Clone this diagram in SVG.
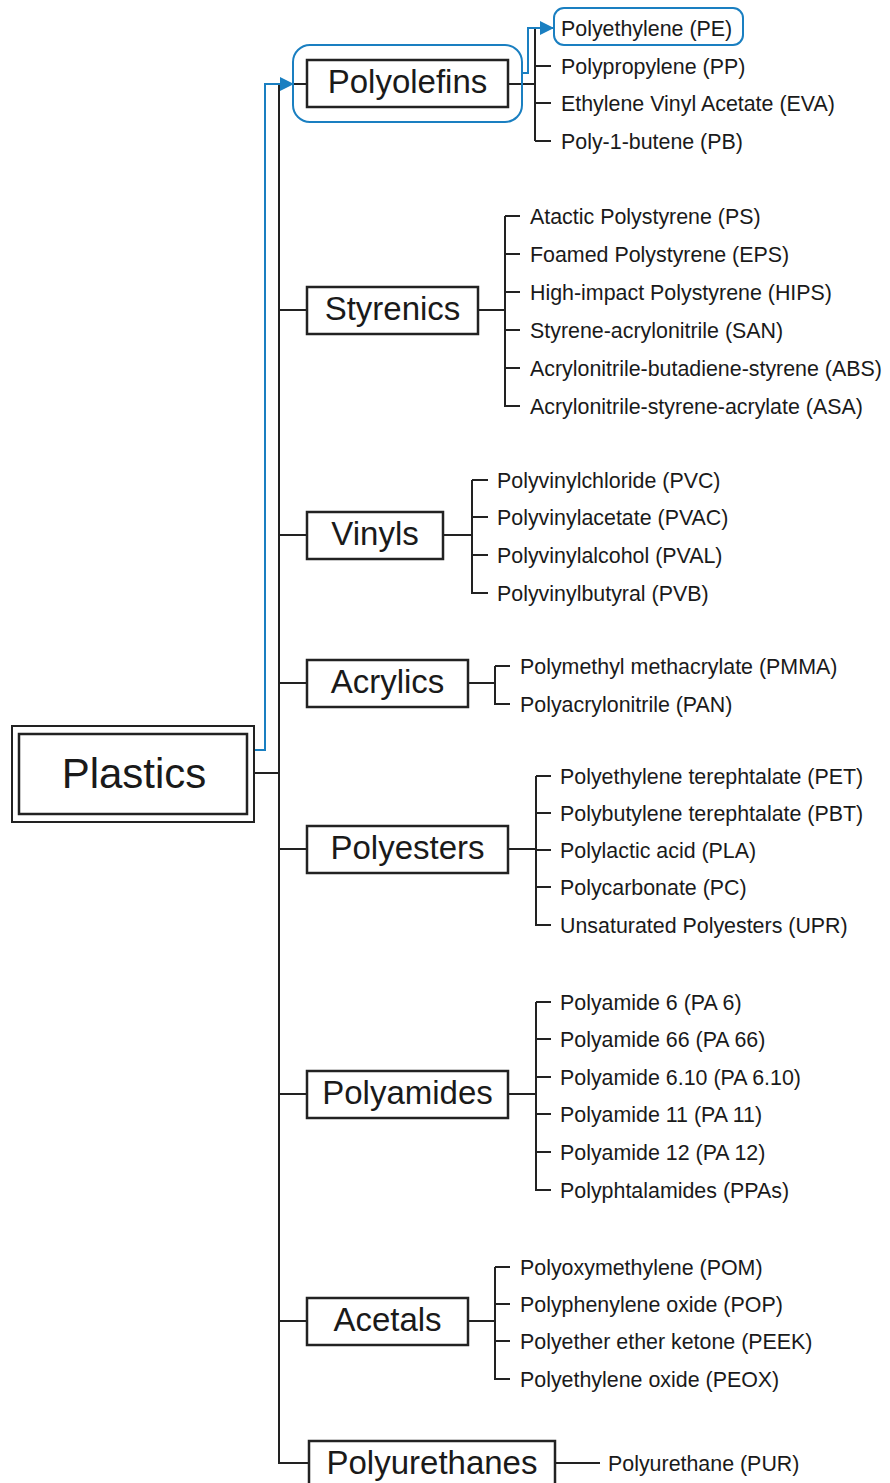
<svg xmlns="http://www.w3.org/2000/svg" width="890" height="1483" viewBox="0 0 890 1483">
<defs>
<style>
.bx{fill:#fff;stroke:#222;stroke-width:2.5}
.cat{font-family:"Liberation Sans",Arial,sans-serif;font-size:33px;fill:#1a1a1a;text-anchor:middle}
.it{font-family:"Liberation Sans",Arial,sans-serif;font-size:21.4px;fill:#1a1a1a}
.ln{fill:none;stroke:#222;stroke-width:2}
.bl{fill:none;stroke:#1a7fc1;stroke-width:2}
</style>
<marker id="ah" markerWidth="14" markerHeight="14" refX="13" refY="7" orient="auto" markerUnits="userSpaceOnUse">
<path d="M0,0 L14,7 L0,14 z" fill="#1a7fc1"/>
</marker>
</defs>
<rect width="890" height="1483" fill="#fff"/>
<g id="connectors">
<path class="ln" d="M279,84 V1463 H309"/>
<path class="ln" d="M254,773 H279"/>
<path class="ln" d="M279,84 H307 M279,310 H307 M279,535 H307 M279,683 H307 M279,849 H307 M279,1094 H307 M279,1321 H307"/>
<path class="ln" d="M508,84 H535 M535,28 V141 M535,66 H551 M535,103 H551 M535,141 H551"/>
<path class="ln" d="M478,310 H505 M505,216 V406 H520 M505,216 H520 M505,254 H520 M505,292 H520 M505,330 H520 M505,368 H520"/>
<path class="ln" d="M443,535 H472 M472,480 V593 H488 M472,480 H488 M472,517 H488 M472,555 H488"/>
<path class="ln" d="M468,683 H495 M495,666 V704 H510 M495,666 H510"/>
<path class="ln" d="M508,849 H536 M536,776 V925 H551 M536,776 H551 M536,813 H551 M536,850 H551 M536,887 H551"/>
<path class="ln" d="M508,1094 H536 M536,1002 V1190 H551 M536,1002 H551 M536,1039 H551 M536,1077 H551 M536,1114 H551 M536,1152 H551"/>
<path class="ln" d="M468,1321 H495 M495,1267 V1379 H510 M495,1267 H510 M495,1304 H510 M495,1341 H510"/>
<path class="ln" d="M555,1463 H600"/>
<path class="bl" d="M254,750 H265 V84 H293" marker-end="url(#ah)"/>
<path class="bl" d="M522,73 H528 V28 H553" marker-end="url(#ah)"/>
</g>
<g id="plastics">
<rect x="12" y="726" width="242" height="96" fill="#fff" stroke="#222" stroke-width="2"/>
<rect x="19" y="734" width="228" height="80" fill="none" stroke="#222" stroke-width="2.5"/>
<text x="134" y="788" class="cat" style="font-size:42px">Plastics</text>
</g>
<g id="polyolefins">
<rect x="293" y="45" width="229" height="77" rx="17" fill="none" stroke="#1a7fc1" stroke-width="2"/>
<rect class="bx" x="307" y="60" width="201" height="47"/>
<text x="407.5" y="93" class="cat">Polyolefins</text>
<rect x="554" y="8" width="189" height="37" rx="10" fill="none" stroke="#1a7fc1" stroke-width="2"/>
<text x="561" y="35.5" class="it">Polyethylene (PE)</text>
<text x="561" y="73.5" class="it">Polypropylene (PP)</text>
<text x="561" y="110.5" class="it">Ethylene Vinyl Acetate (EVA)</text>
<text x="561" y="148.5" class="it">Poly-1-butene (PB)</text>
</g>
<g id="styrenics">
<rect class="bx" x="307" y="287" width="171" height="47"/>
<text x="392.5" y="320" class="cat">Styrenics</text>
<text x="530" y="223.5" class="it">Atactic Polystyrene (PS)</text>
<text x="530" y="261.5" class="it">Foamed Polystyrene (EPS)</text>
<text x="530" y="299.5" class="it">High-impact Polystyrene (HIPS)</text>
<text x="530" y="337.5" class="it">Styrene-acrylonitrile (SAN)</text>
<text x="530" y="375.5" class="it">Acrylonitrile-butadiene-styrene (ABS)</text>
<text x="530" y="413.5" class="it">Acrylonitrile-styrene-acrylate (ASA)</text>
</g>
<g id="vinyls">
<rect class="bx" x="307" y="512" width="136" height="47"/>
<text x="375" y="545" class="cat">Vinyls</text>
<text x="497" y="487.5" class="it">Polyvinylchloride (PVC)</text>
<text x="497" y="524.5" class="it">Polyvinylacetate (PVAC)</text>
<text x="497" y="562.5" class="it">Polyvinylalcohol (PVAL)</text>
<text x="497" y="600.5" class="it">Polyvinylbutyral (PVB)</text>
</g>
<g id="acrylics">
<rect class="bx" x="307" y="660" width="161" height="47"/>
<text x="387.5" y="693" class="cat">Acrylics</text>
<text x="520" y="673.5" class="it">Polymethyl methacrylate (PMMA)</text>
<text x="520" y="711.5" class="it">Polyacrylonitrile (PAN)</text>
</g>
<g id="polyesters">
<rect class="bx" x="307" y="826" width="201" height="47"/>
<text x="407.5" y="859" class="cat">Polyesters</text>
<text x="560" y="783.5" class="it">Polyethylene terephtalate (PET)</text>
<text x="560" y="820.5" class="it">Polybutylene terephtalate (PBT)</text>
<text x="560" y="857.5" class="it">Polylactic acid (PLA)</text>
<text x="560" y="894.5" class="it">Polycarbonate (PC)</text>
<text x="560" y="932.5" class="it">Unsaturated Polyesters (UPR)</text>
</g>
<g id="polyamides">
<rect class="bx" x="307" y="1071" width="201" height="47"/>
<text x="407.5" y="1104" class="cat">Polyamides</text>
<text x="560" y="1009.5" class="it">Polyamide 6 (PA 6)</text>
<text x="560" y="1046.5" class="it">Polyamide 66 (PA 66)</text>
<text x="560" y="1084.5" class="it">Polyamide 6.10 (PA 6.10)</text>
<text x="560" y="1121.5" class="it">Polyamide 11 (PA 11)</text>
<text x="560" y="1159.5" class="it">Polyamide 12 (PA 12)</text>
<text x="560" y="1197.5" class="it">Polyphtalamides (PPAs)</text>
</g>
<g id="acetals">
<rect class="bx" x="307" y="1298" width="161" height="47"/>
<text x="387.5" y="1331" class="cat">Acetals</text>
<text x="520" y="1274.5" class="it">Polyoxymethylene (POM)</text>
<text x="520" y="1311.5" class="it">Polyphenylene oxide (POP)</text>
<text x="520" y="1348.5" class="it">Polyether ether ketone (PEEK)</text>
<text x="520" y="1386.5" class="it">Polyethylene oxide (PEOX)</text>
</g>
<g id="polyurethanes">
<rect class="bx" x="309" y="1441" width="246" height="60"/>
<text x="432" y="1474" class="cat">Polyurethanes</text>
<text x="608" y="1470.5" class="it">Polyurethane (PUR)</text>
</g>
</svg>
